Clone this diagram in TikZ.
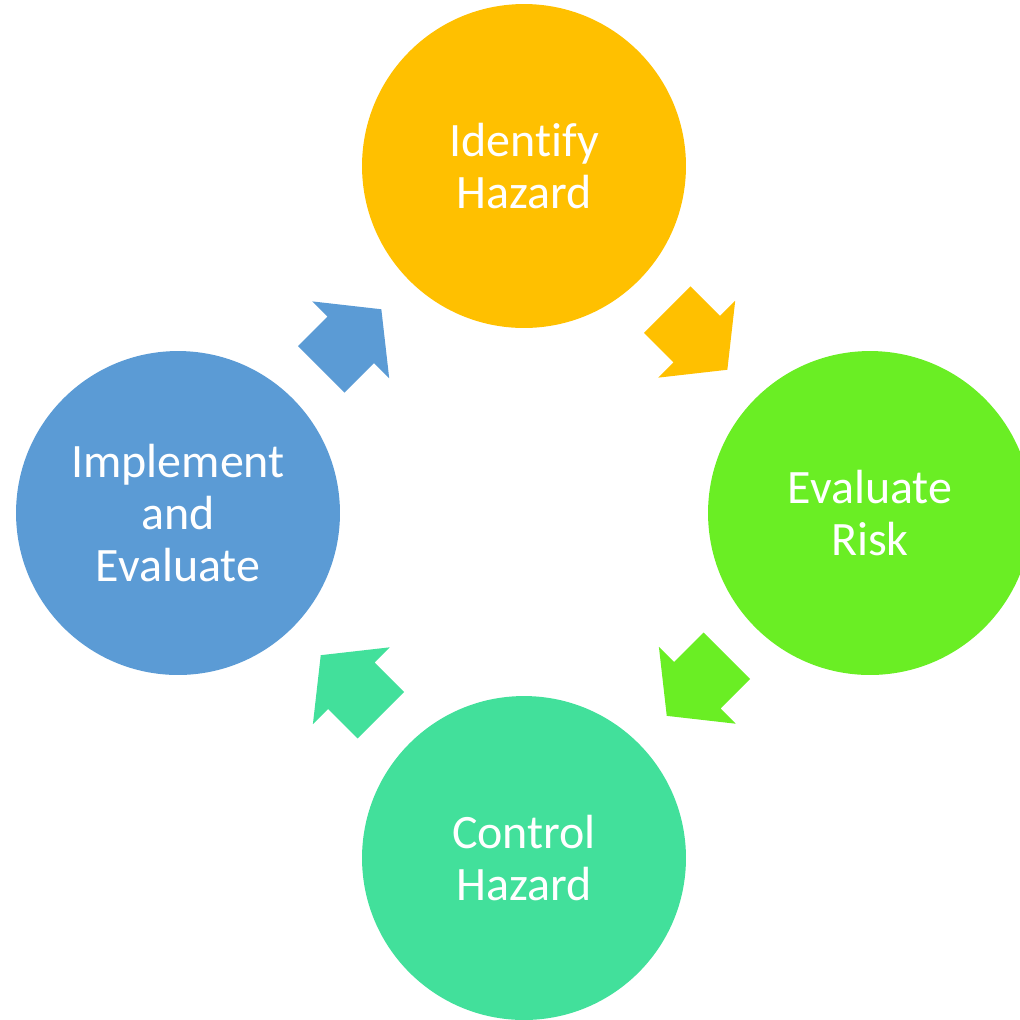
\documentclass[tikz,border=0pt]{standalone}
\usepackage{fontspec}
\setmainfont[Ligatures=NoCommon]{Carlito}
\usepackage{tikz}
\usetikzlibrary{shapes.arrows}
\usetikzlibrary{calc}
\definecolor{identifycol}{RGB}{255,192,0}
\definecolor{evaluatecol}{RGB}{106,238,36}
\definecolor{controlcol}{RGB}{66,224,155}
\definecolor{implementcol}{RGB}{91,155,213}
\tikzstyle{stage} = [circle, minimum size=6.48cm, inner sep=0pt, text=white, align=center, font=\fontsize{27.3}{29.6}\selectfont]
\tikzstyle{blockarrow} = [single arrow, anchor=tail, minimum height=1.7cm, inner xsep=0pt, inner ysep=0.65cm, single arrow head extend=0.43cm, single arrow tip angle=103]

\begin{document}
\begin{tikzpicture}[x=0.02cm, y=-0.02cm]
        \useasboundingbox (0,0) rectangle (1020,1019);
        \node (identify) [stage, fill=identifycol] at (524,166) {Identify\\Hazard};
        \node (evaluate) [stage, fill=evaluatecol] at (870,513) {Evaluate\\Risk};
        \node (control) [stage, fill=controlcol] at (524,858) {Control\\Hazard};
        \node (implement) [stage, fill=implementcol] at (178,513) {Implement\\and\\Evaluate};

        % arrows sit halfway between two stages, tail set back by half their length
        \node (arrowIE) [blockarrow, fill=identifycol, rotate=-45] at ($(identify)!0.5!(evaluate)!0.85cm!(identify)$) {};
        \node (arrowEC) [blockarrow, fill=evaluatecol, rotate=-135] at ($(evaluate)!0.5!(control)!0.85cm!(evaluate)$) {};
        \node (arrowCI) [blockarrow, fill=controlcol, rotate=135] at ($(control)!0.5!(implement)!0.85cm!(control)$) {};
        \node (arrowII) [blockarrow, fill=implementcol, rotate=45] at ($(implement)!0.5!(identify)!0.85cm!(implement)$) {};
    \end{tikzpicture}
\end{document}
